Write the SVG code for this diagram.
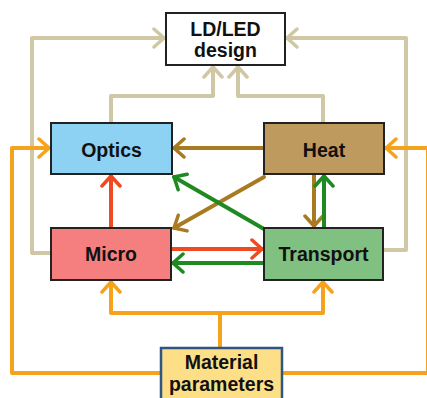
<svg xmlns="http://www.w3.org/2000/svg" width="427" height="398" viewBox="0 0 427 398">
<style>
.box{stroke:#222;stroke-width:2}
.t{font-family:"Liberation Sans",Arial,sans-serif;font-weight:bold;font-size:19.5px;fill:#111;text-anchor:middle}
.c{fill:none;stroke-width:4;stroke-linejoin:round;stroke-linecap:round}
.beige{stroke:#d0c8a4;marker-end:url(#mb)}
.orange{stroke:#f5a31c;marker-end:url(#mo)}
.brown{stroke:#a87a22;marker-end:url(#mbr)}
.green{stroke:#1f8a22;marker-end:url(#mg)}
.red{stroke:#f04a22;marker-end:url(#mr)}
</style>
<defs>
<marker id="mb" markerUnits="userSpaceOnUse" markerWidth="16" markerHeight="22" refX="12" refY="11" orient="auto" viewBox="0 0 16 22"><path d="M2,2 L12,11 L2,20" fill="none" stroke="#d0c8a4" stroke-width="3.5" stroke-linecap="round" stroke-linejoin="round"/></marker>
<marker id="mo" markerUnits="userSpaceOnUse" markerWidth="16" markerHeight="22" refX="12" refY="11" orient="auto" viewBox="0 0 16 22"><path d="M2,2 L12,11 L2,20" fill="none" stroke="#f5a31c" stroke-width="3.5" stroke-linecap="round" stroke-linejoin="round"/></marker>
<marker id="mbr" markerUnits="userSpaceOnUse" markerWidth="16" markerHeight="22" refX="12" refY="11" orient="auto" viewBox="0 0 16 22"><path d="M2,2 L12,11 L2,20" fill="none" stroke="#a87a22" stroke-width="3.5" stroke-linecap="round" stroke-linejoin="round"/></marker>
<marker id="mg" markerUnits="userSpaceOnUse" markerWidth="16" markerHeight="22" refX="12" refY="11" orient="auto" viewBox="0 0 16 22"><path d="M2,2 L12,11 L2,20" fill="none" stroke="#1f8a22" stroke-width="3.5" stroke-linecap="round" stroke-linejoin="round"/></marker>
<marker id="mr" markerUnits="userSpaceOnUse" markerWidth="16" markerHeight="22" refX="12" refY="11" orient="auto" viewBox="0 0 16 22"><path d="M2,2 L12,11 L2,20" fill="none" stroke="#f04a22" stroke-width="3.5" stroke-linecap="round" stroke-linejoin="round"/></marker>
</defs>
<rect width="427" height="398" fill="#fff"/>
<g id="connectors">
<path class="c beige" d="M51,253 H32 V38 H164"/>
<path class="c beige" d="M384,250 H406 V38 H287"/>
<path class="c beige" d="M111,123 V96 H213 V67"/>
<path class="c beige" d="M323,123 V96 H238 V67"/>
<path class="c orange" d="M161,373 H12 V148 H49"/>
<path class="c orange" d="M282,373 H428 V148 H386"/>
<path class="c orange" d="M220,348 V313 H111 V282"/>
<path class="c orange" d="M220,313 H323 V282"/>
<path class="c brown" d="M264,148 H174"/>
<path class="c brown" d="M264,177 L174,228"/>
<path class="c brown" d="M314,174 V226"/>
<path class="c green" d="M324,228 V176"/>
<path class="c green" d="M264,229 L174,177"/>
<path class="c red" d="M171,249 H262"/>
<path class="c green" d="M264,263 H173"/>
<path class="c red" d="M111,228 V176"/>
</g>
<g id="ld">
<rect class="box" x="166" y="13" width="119" height="52" fill="#fff"/>
<text class="t" x="225.5" y="36">LD/LED</text>
<text class="t" x="225.5" y="57">design</text>
</g>
<g id="optics">
<rect class="box" x="51" y="123" width="121" height="51" fill="#8dd2f3"/>
<text class="t" x="111.5" y="157">Optics</text>
</g>
<g id="heat">
<rect class="box" x="264" y="123" width="120" height="51" fill="#bf9a5f"/>
<text class="t" x="324" y="157">Heat</text>
</g>
<g id="micro">
<rect class="box" x="51" y="228" width="120" height="52" fill="#f57f7f"/>
<text class="t" x="111" y="261">Micro</text>
</g>
<g id="transport">
<rect class="box" x="264" y="228" width="119" height="52" fill="#80c080"/>
<text class="t" x="323.5" y="261">Transport</text>
</g>
<g id="material">
<rect x="161" y="348" width="121" height="56" fill="#fcdf86" stroke="#2e5583" stroke-width="2.5"/>
<text class="t" x="221.5" y="369">Material</text>
<text class="t" x="221.5" y="391">parameters</text>
</g>
</svg>
